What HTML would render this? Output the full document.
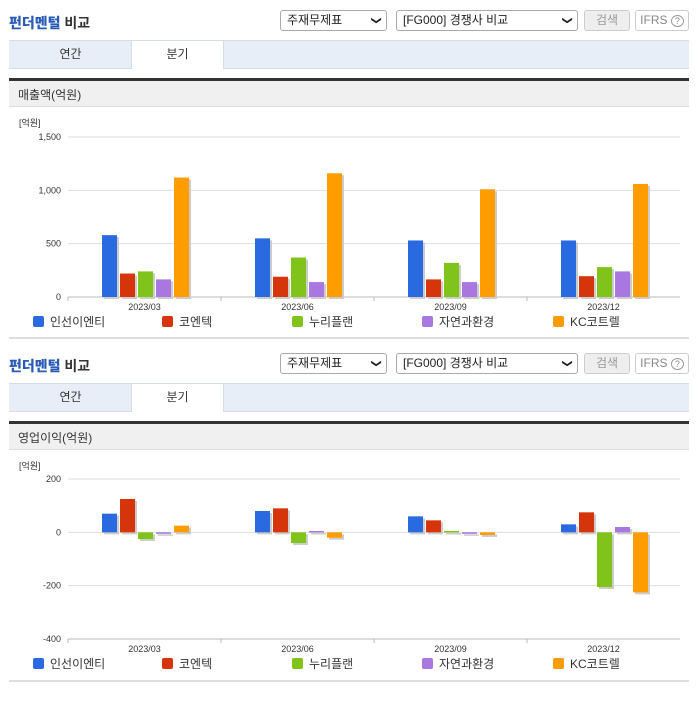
<!DOCTYPE html>
<html><head><meta charset="utf-8">
<style>
body{margin:0;width:696px;height:684px;background:#fff;position:relative;overflow:hidden;font-family:"Liberation Sans","Noto Sans CJK KR",sans-serif;}
.a{position:absolute;}
.title{font-size:14px;font-weight:bold;color:#333;}
.title b{color:#2a5bb8;}
.sel{border:1px solid #aaa;border-radius:3px;height:21px;box-sizing:border-box;font-size:12px;color:#222;line-height:19px;padding-left:6px;background:#fff;}
.sel span.ar{position:absolute;right:6px;top:0;font-size:10px;}
.btn{border:1px solid #ccc;border-radius:3px;height:21px;box-sizing:border-box;font-size:12px;color:#999;text-align:center;line-height:19px;}
.tabs{background:#e8eef8;border-top:1px solid #d5dde9;border-bottom:1px solid #d5dde9;height:27px;}
.tab{font-size:12px;color:#333;text-align:center;line-height:27px;height:28px;}
.sect{background:#f0f0f0;border-top:3px solid #333;border-bottom:1px solid #ddd;height:29px;font-size:12px;color:#333;line-height:29px;padding-left:9px;box-sizing:border-box;}
</style></head><body>
<div id="blocks"></div>
<script>
const categories=["2023/03","2023/06","2023/09","2023/12"];
const seriesNames=["인선이엔티","코엔텍","누리플랜","자연과환경","KC코트렐"];
const colors=["#2a6ae0","#d6350c","#80c31a","#a877e0","#ff9c00"];
const sales1=[580,550,530,530];
const sales2=[220,190,165,195];
const sales3=[240,370,320,280];
const sales4=[165,140,140,240];
const sales5=[1120,1160,1010,1060];
const op1=[70,80,60,30];
const op2=[125,90,45,75];
const op3=[-25,-40,5,-205];
const op4=[-5,5,-5,20];
const op5=[25,-20,-10,-225];
const salesTicks=["0","500","1,000","1,500"];
const salesTickVals=[0,500,1000,1500];
const opTicks=["-400","-200","0","200"];
const opTickVals=[-400,-200,0,200];

const NS="http://www.w3.org/2000/svg";
function mk(tag,attrs,parent){const e=document.createElementNS(NS,tag);for(const k in attrs)e.setAttribute(k,attrs[k]);parent.appendChild(e);return e;}
function div(cls,style,html,parent){const d=document.createElement('div');d.className=cls;d.style.cssText=style;if(html)d.innerHTML=html;parent.appendChild(d);return d;}

function block(off,secName,series,tickVals,tickLbls,vmin,vmax,yTop,yBot){
  const root=document.getElementById('blocks');
  const t=div('a title','left:9px;top:'+(13+off)+'px;','<b>펀더멘털</b> 비교',root);
  
  let s=div('a sel','left:280px;top:'+(10+off)+'px;width:107px;','주재무제표<span class="ar">&#10095;</span>',root);
  s.querySelector('.ar').style.transform='rotate(90deg)';
  
  s=div('a sel','left:396px;top:'+(10+off)+'px;width:182px;','[FG000] 경쟁사 비교<span class="ar">&#10095;</span>',root);
  s.querySelector('.ar').style.transform='rotate(90deg)';
  
  s=div('a btn','left:584px;top:'+(10+off)+'px;width:46px;background:#eee;','검색',root);
  
  s=div('a btn','left:635px;top:'+(10+off)+'px;width:54px;color:#888;','IFRS <span style="border:1px solid #999;border-radius:50%;font-size:9px;padding:0 3px">?</span>',root);
  
  s=div('a tabs','left:9px;top:'+(40+off)+'px;width:680px;','',root);
  
  s=div('a tab','left:10px;top:'+(41+off)+'px;width:121px;','연간',root);
  
  s=div('a tab','left:131px;top:'+(41+off)+'px;width:91px;background:#fff;border-left:1px solid #d5dde9;border-right:1px solid #d5dde9;','분기',root);
  
  s=div('a sect','left:9px;top:'+(78+off)+'px;width:680px;',secName,root);
  

  const svg=mk('svg',{width:696,height:260,style:'position:absolute;left:0;top:'+(110+off)+'px;font-family:Liberation Sans,Noto Sans CJK KR,sans-serif'},root);
  
  const o=110+off;
  const x0=68,x1=680,cw=(x1-x0)/categories.length;
  const y=v=>yBot-o-(v-vmin)/(vmax-vmin)*(yBot-yTop);
  const u=mk('text',{x:19,y:16,'font-size':9,fill:'#333'},svg);u.textContent='[억원]';
  
  tickVals.forEach((tv,i)=>{
    const ln=mk('line',{x1:x0,x2:x1,y1:y(tv),y2:y(tv),stroke:'#ddd'},svg);
    
    const tx=mk('text',{x:61,y:y(tv)+3,'font-size':9,fill:'#333','text-anchor':'end'},svg);tx.textContent=tickLbls[i];
    
  });
  const base=y(Math.max(vmin,Math.min(0,vmax)));
  const ax=mk('line',{x1:x0,x2:x1,y1:y(vmin),y2:y(vmin),stroke:'#bbb'},svg);
  
  categories.forEach((c,ci)=>{
    const tk=mk('line',{x1:x0+cw*ci,x2:x0+cw*ci,y1:y(vmin),y2:y(vmin)+4,stroke:'#bbb'},svg);
    
    const cx=x0+cw*(ci+0.5);
    const lt=mk('text',{x:cx,y:y(vmin)+13,'font-size':9,fill:'#333','text-anchor':'middle'},svg);lt.textContent=c;
    
    series.forEach((arr,si)=>{
      const v=arr[ci];const bx=cx-42.5+si*18;
      const y0=y(0),y1=y(v);const top=Math.min(y0,y1),h=Math.max(1.5,Math.abs(y1-y0));
      const sh=mk('rect',{x:bx+2,y:top+2,width:15,height:h,fill:'#ccc'},svg);
      
      const r=mk('rect',{x:bx,y:top,width:15,height:h,fill:colors[si]},svg);
      
    });
  });
  const lx=[33,162,292,422,553];
  seriesNames.forEach((n,i)=>{
    const g=mk('g',{},svg);
    
    mk('rect',{x:lx[i],y:y(vmin)+19,width:11,height:11,rx:2,fill:colors[i]},g);
    const t=mk('text',{x:lx[i]+17,y:y(vmin)+29,'font-size':12,fill:'#333'},g);t.textContent=n;
  });
  s=div('a','left:9px;top:'+(337+off)+'px;width:680px;height:2px;background:#ddd;','',root);
  
}
block(0,'매출액(억원)',[sales1,sales2,sales3,sales4,sales5],salesTickVals,salesTicks,0,1500,137,297);
block(343,'영업이익(억원)',[op1,op2,op3,op4,op5],opTickVals,opTicks,-400,200,479,639);
</script>
</body></html>
